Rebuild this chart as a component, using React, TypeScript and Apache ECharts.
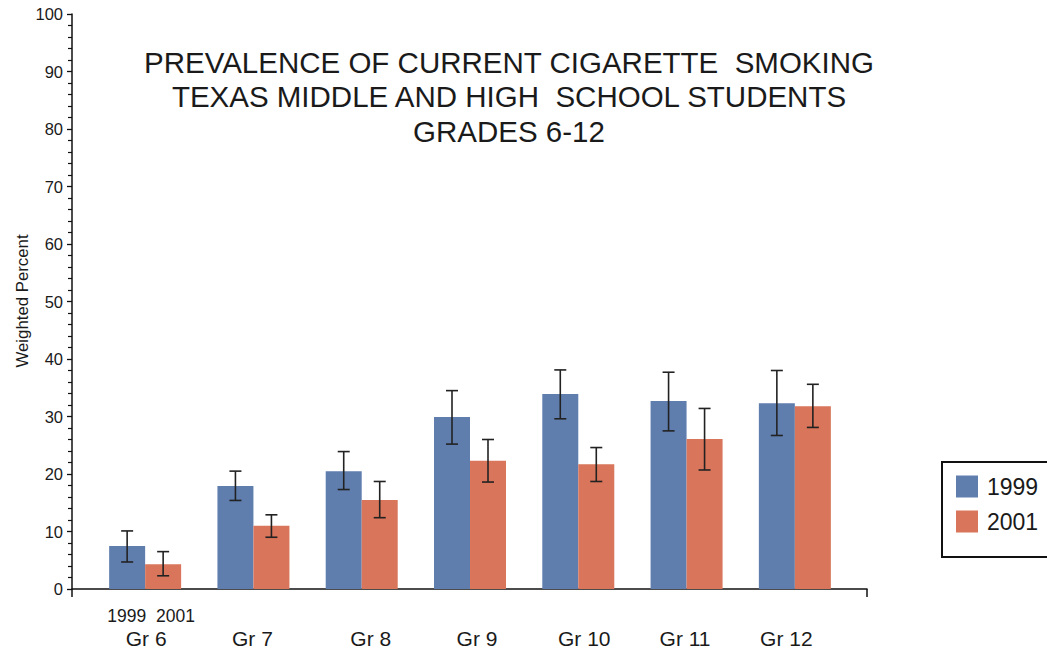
import React, { useEffect, useRef } from "react";
import * as echarts from "echarts";

const grades = ["Gr 6", "Gr 7", "Gr 8", "Gr 9", "Gr 10", "Gr 11", "Gr 12"];
const seriesNames = ["1999", "2001"];
const values1999 = [7.5, 17.9, 20.5, 29.9, 33.9, 32.7, 32.3];
const low1999 = [4.7, 15.4, 17.3, 25.2, 29.6, 27.5, 26.7];
const high1999 = [10.1, 20.5, 23.9, 34.5, 38.1, 37.7, 38.0];
const values2001 = [4.3, 11.0, 15.5, 22.3, 21.7, 26.1, 31.8];
const low2001 = [2.3, 9.0, 12.4, 18.6, 18.7, 20.7, 28.1];
const high2001 = [6.5, 12.9, 18.7, 26.0, 24.6, 31.4, 35.6];
const titleLines = [
  "PREVALENCE OF CURRENT CIGARETTE  SMOKING",
  "TEXAS MIDDLE AND HIGH  SCHOOL STUDENTS",
  "GRADES 6-12",
];
const yAxisName = "Weighted Percent";

// label horizontal nudges (style only), in px
const labelNudge = [1, -1, 9, 7, 6, -1.5, -8.5];

const FONT = "'Liberation Sans', Arial, sans-serif";
const BLUE = "#5F7EAE";
const ORANGE = "#D9755A";
const INK = "#1a1a1a";

export default function App() {
  const ref = useRef<HTMLDivElement>(null);
  useEffect(() => {
    if (!ref.current) return;
    const chart = echarts.init(ref.current, undefined, { renderer: "svg" });
    const BAR_W = 36;
    const errRender = (offset: number) => (params: any, api: any) => {
      const idx = api.value(0);
      const lo = api.coord([idx, api.value(1)]);
      const hi = api.coord([idx, api.value(2)]);
      const x = lo[0] + offset;
      const cap = 6;
      const style = { stroke: "#222", lineWidth: 1.6 };
      return {
        type: "group",
        children: [
          { type: "line", shape: { x1: x, y1: lo[1], x2: x, y2: hi[1] }, style },
          { type: "line", shape: { x1: x - cap, y1: lo[1], x2: x + cap, y2: lo[1] }, style },
          { type: "line", shape: { x1: x - cap, y1: hi[1], x2: x + cap, y2: hi[1] }, style },
        ],
      };
    };
    const rich: any = {
      a: { fontSize: 17.5, lineHeight: 20, color: INK, fontFamily: FONT, padding: [0, 0, 0, 12] },
      blank: { fontSize: 17, lineHeight: 20 },
    };
    labelNudge.forEach((n, i) => {
      rich["b" + i] = {
        fontSize: 21,
        lineHeight: 24,
        color: INK,
        fontFamily: FONT,
        padding: n >= 0 ? [0, 0, 0, 2 * n] : [0, -2 * n, 0, 0],
      };
    });
    chart.setOption({
      animation: false,
      backgroundColor: "#fff",
      textStyle: { fontFamily: FONT },
      title: {
        text: titleLines.join("\n"),
        left: 504,
        top: 40,
        textAlign: "center",
        textStyle: { fontSize: 29.5, fontWeight: "normal", color: INK, lineHeight: 34.5, fontFamily: FONT },
      },
      graphic: [
        {
          type: "text",
          x: 22,
          y: 301,
          rotation: Math.PI / 2,
          style: {
            text: yAxisName,
            fontSize: 16.8,
            fontFamily: FONT,
            fill: INK,
            align: "center",
            verticalAlign: "middle",
          },
        },
      ],
      legend: {
        data: seriesNames,
        orient: "vertical",
        left: 942,
        top: 462,
        borderColor: "#111",
        borderWidth: 2,
        padding: [13, 30, 24, 14],
        itemWidth: 22,
        itemHeight: 22,
        itemGap: 12,
        icon: "rect",
        textStyle: { fontSize: 23, color: INK, fontFamily: FONT, padding: [0, 0, 0, 4] },
      },
      grid: [
        { left: 72, right: 180, top: 14, bottom: 61 },
        { left: 91, right: 198, top: 14, bottom: 61 },
      ],
      xAxis: [
        {
          gridIndex: 0,
          type: "value",
          min: 0,
          max: 1,
          interval: 1,
          axisLine: { show: true, lineStyle: { color: "#111", width: 1.5 } },
          axisTick: { show: true, length: 8, lineStyle: { color: "#111", width: 1.5 } },
          axisLabel: { show: false },
          splitLine: { show: false },
        },
        {
          gridIndex: 1,
          type: "category",
          data: grades,
          axisLine: { show: false },
          axisTick: { show: false },
          axisLabel: {
            margin: 17,
            interval: 0,
            formatter: (v: string, i: number) =>
              i === 0
                ? `{a|${seriesNames[0]}  ${seriesNames[1]}}\n{b${i}|${v}}`
                : `{blank| }\n{b${i}|${v}}`,
            rich,
          },
        },
      ],
      yAxis: [
        {
          gridIndex: 0,
          type: "value",
          min: 0,
          max: 100,
          interval: 10,
          axisLine: { show: true, lineStyle: { color: "#111", width: 1.5 } },
          axisTick: { show: true, length: 5, lineStyle: { color: "#111", width: 1.3 } },
          minorTick: { show: true, splitNumber: 5, length: 4, lineStyle: { color: "#111", width: 1.2 } },
          axisLabel: { fontSize: 16.5, color: INK, margin: 9, fontFamily: FONT },
          splitLine: { show: false },
        },
        {
          gridIndex: 1,
          type: "value",
          min: 0,
          max: 100,
          show: false,
          splitLine: { show: false },
        },
      ],
      series: [
        {
          name: seriesNames[0],
          type: "bar",
          xAxisIndex: 1,
          yAxisIndex: 1,
          data: values1999,
          barWidth: BAR_W,
          barGap: "0%",
          itemStyle: { color: BLUE },
        },
        {
          name: seriesNames[1],
          type: "bar",
          xAxisIndex: 1,
          yAxisIndex: 1,
          data: values2001,
          barWidth: BAR_W,
          barGap: "0%",
          itemStyle: { color: ORANGE },
        },
        {
          type: "custom",
          xAxisIndex: 1,
          yAxisIndex: 1,
          renderItem: errRender(-BAR_W / 2),
          data: grades.map((_, i) => [i, low1999[i], high1999[i]]),
          z: 10,
        },
        {
          type: "custom",
          xAxisIndex: 1,
          yAxisIndex: 1,
          renderItem: errRender(BAR_W / 2),
          data: grades.map((_, i) => [i, low2001[i], high2001[i]]),
          z: 10,
        },
      ],
    });
    return () => chart.dispose();
  }, []);
  return (
    <div
      ref={ref}
      style={{ position: "absolute", left: 0, top: 0, width: 1047, height: 650 }}
    />
  );
}
